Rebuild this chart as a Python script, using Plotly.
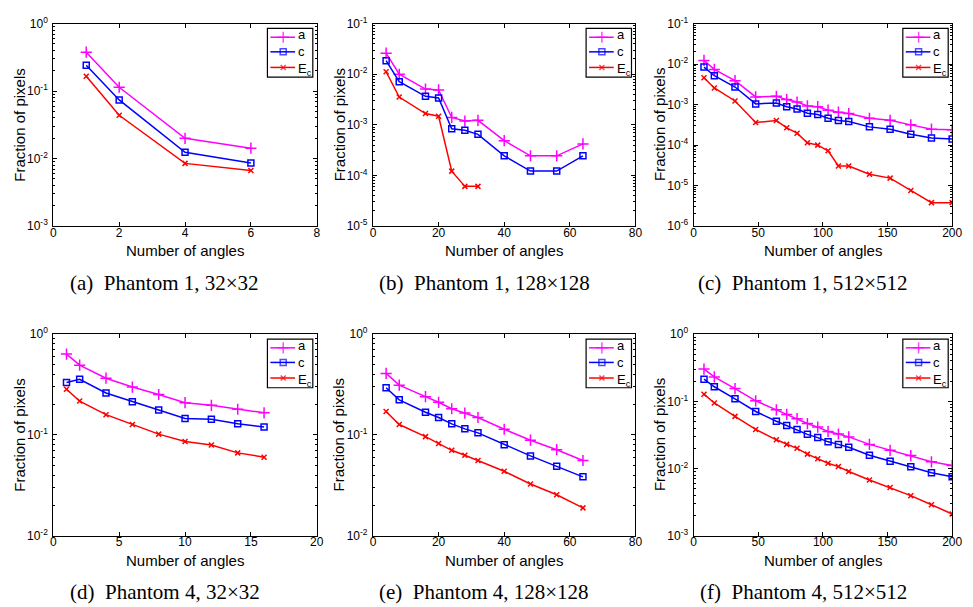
import plotly.graph_objects as go

# ---- data: fraction of pixels vs number of projection angles ----
# (a) Phantom 1, 32x32
a_x = [1, 2, 4, 6]
a_a = [0.377, 0.114, 0.0200, 0.0143]
a_c = [0.242, 0.074, 0.0124, 0.0086]
a_e = [0.166, 0.0439, 0.0085, 0.00667]

# (b) Phantom 1, 128x128
b_x = [4, 8, 16, 20, 24, 28, 32, 40, 48, 56, 64]
b_a = [0.026, 0.0100, 0.0051, 0.0049, 0.0014, 0.00119, 0.00123, 0.000488, 0.000244, 0.000244, 0.00042]
b_c = [0.0185, 0.0071, 0.00366, 0.0034, 0.00084, 0.00078, 0.00065, 0.000244, 0.000122, 0.000122, 0.000244]
b_ex = [4, 8, 16, 20, 24, 28, 32]
b_e = [0.0112, 0.00354, 0.00167, 0.00148, 0.000122, 0.000061, 0.000061]

# (c) Phantom 1, 512x512
c_x = [8, 16, 32, 48, 64, 72, 80, 88, 96, 104, 112, 120, 136, 152, 168, 184, 200]
c_a = [0.0123, 0.0074, 0.00389, 0.00155, 0.0016, 0.00133, 0.00116, 0.00093, 0.00089, 0.00073,
       0.00065, 0.0006, 0.00046, 0.00041, 0.000316, 0.000247, 0.000238]
c_c = [0.00844, 0.00516, 0.00272, 0.00104, 0.0011, 0.00089, 0.00078, 0.00061, 0.00057, 0.00046,
       0.000404, 0.000382, 0.000282, 0.000247, 0.000186, 0.000149, 0.000141]
c_e = [0.00461, 0.00257, 0.00123, 0.00036, 0.000404, 0.000267, 0.000197, 0.000114, 0.0001, 0.0000726,
       0.0000305, 0.0000305, 0.0000191, 0.0000153, 0.0000076, 0.0000038, 0.0000038]

# (d) Phantom 4, 32x32
d_x = [1, 2, 4, 6, 8, 10, 12, 14, 16]
d_a = [0.635, 0.493, 0.366, 0.299, 0.252, 0.209, 0.197, 0.180, 0.166]
d_c = [0.332, 0.357, 0.261, 0.214, 0.177, 0.146, 0.143, 0.129, 0.120]
d_e = [0.284, 0.217, 0.159, 0.127, 0.102, 0.0861, 0.0794, 0.0664, 0.0602]

# (e) Phantom 4, 128x128
e_x = [4, 8, 16, 20, 24, 28, 32, 40, 48, 56, 64]
e_a = [0.408, 0.312, 0.240, 0.211, 0.182, 0.165, 0.149, 0.114, 0.0887, 0.0714, 0.0558]
e_c = [0.294, 0.223, 0.168, 0.149, 0.129, 0.115, 0.105, 0.080, 0.062, 0.0488, 0.0384]
e_e = [0.171, 0.127, 0.0963, 0.0824, 0.0704, 0.0629, 0.0558, 0.0436, 0.0326, 0.0255, 0.0189]

# (f) Phantom 4, 512x512
f_x = [8, 16, 32, 48, 64, 72, 80, 88, 96, 104, 112, 120, 136, 152, 168, 184, 200]
f_a = [0.303, 0.231, 0.155, 0.102, 0.0748, 0.064, 0.0553, 0.0468, 0.0414, 0.0357, 0.0327, 0.0296,
       0.0229, 0.0187, 0.0156, 0.0126, 0.0111]
f_c = [0.214, 0.165, 0.109, 0.0707, 0.0506, 0.0437, 0.0382, 0.0323, 0.0289, 0.025, 0.0229, 0.0207,
       0.0158, 0.0129, 0.0106, 0.00865, 0.00756]
f_e = [0.128, 0.0946, 0.0598, 0.0382, 0.0268, 0.0229, 0.020, 0.0164, 0.014, 0.012, 0.0107, 0.00904,
       0.00676, 0.00523, 0.00395, 0.00289, 0.00211]

captions = ["(a)\u2002Phantom 1, 32\u00d732", "(b)\u2002Phantom 1, 128\u00d7128",
            "(c)\u2002Phantom 1, 512\u00d7512", "(d)\u2002Phantom 4, 32\u00d732",
            "(e)\u2002Phantom 4, 128\u00d7128", "(f)\u2002Phantom 4, 512\u00d7512"]
x_ranges = [(0, 8, 2), (0, 80, 20), (0, 200, 50), (0, 20, 5), (0, 80, 20), (0, 200, 50)]
y_decades = [(-3, 0), (-5, -1), (-6, -1), (-2, 0), (-2, 0), (-3, 0)]
series_names = ["a", "c", "E<sub>c</sub>"]

panels = [
    (a_x, a_a, a_x, a_c, a_x, a_e),
    (b_x, b_a, b_x, b_c, b_ex, b_e),
    (c_x, c_a, c_x, c_c, c_x, c_e),
    (d_x, d_a, d_x, d_c, d_x, d_e),
    (e_x, e_a, e_x, e_c, e_x, e_e),
    (f_x, f_a, f_x, f_c, f_x, f_e),
]

# ---- page geometry (pixels) ----
W, H = 973, 607
col_left = [51, 375, 700]
col_right = [318, 641, 962]
row_top = [15, 334]
row_bottom = [223, 541]
col_caption = [164, 488, 811]
col_ytitle = [17, 341, 666]

# legend box size and inner layout (pixels)
LEG_W, LEG_H = 46, 50
LEG_ROWS = [9, 24, 40]
LEG_FONT = 12

SANS = "Liberation Sans, Arial, Helvetica, sans-serif"
SERIF = "Liberation Serif, Times New Roman, serif"

colors = ["#ff00ff", "#0000ff", "#ff0000"]
symbols = ["cross-thin-open", "square-open", "x-thin-open"]
msizes = [8, 6, 5]

fig = go.Figure()
annotations = []
shapes = []
layout = {}

for i, (x1, y1, x2, y2, x3, y3) in enumerate(panels):
    r, c = divmod(i, 3)
    n = "" if i == 0 else str(i + 1)
    xa, ya = "x" + n, "y" + n
    for k, (xs, ys) in enumerate([(x1, y1), (x2, y2), (x3, y3)]):
        fig.add_trace(go.Scatter(
            x=xs, y=ys, xaxis=xa, yaxis=ya, mode="lines+markers",
            name=series_names[k], showlegend=False,
            line=dict(color=colors[k], width=1.5),
            marker=dict(symbol=symbols[k], size=msizes[k], color=colors[k],
                        line=dict(color=colors[k], width=1.5)),
        ))

    x0, x1r, dt = x_ranges[i]
    lo, hi = y_decades[i]
    dom_x = [col_left[c] / W, col_right[c] / W]
    dom_y = [1 - row_bottom[r] / H, 1 - row_top[r] / H]

    layout["xaxis" + n] = dict(
        domain=dom_x, anchor=ya, range=[x0, x1r], tickmode="linear", tick0=0, dtick=dt,
        ticks="inside", ticklen=4, tickwidth=1, tickcolor="black",
        showline=True, linecolor="black", linewidth=1.2, mirror="allticks",
        showgrid=False, zeroline=False, ticklabelstandoff=-5,
        tickfont=dict(family=SANS, size=12, color="black"),
    )
    decades = list(range(lo, hi + 1))
    minor_vals = [m * 10 ** d for d in range(lo, hi) for m in range(2, 10)]
    layout["yaxis" + n] = dict(
        domain=dom_y, anchor=xa, type="log", range=[lo, hi],
        tickmode="array", tickvals=[10 ** d for d in decades],
        ticktext=["10<sup>%d</sup>" % d for d in decades],
        ticks="inside", ticklen=4, tickwidth=1, tickcolor="black",
        minor=dict(tickmode="array", tickvals=minor_vals, ticks="inside",
                   ticklen=2, tickwidth=1, tickcolor="black", showgrid=False),
        showline=True, linecolor="black", linewidth=1.2, mirror="allticks",
        showgrid=False, zeroline=False, ticklabelstandoff=2,
        tickfont=dict(family=SANS, size=12, color="black"),
    )

    # boxed legend in the upper-right corner of each panel
    bx1 = col_right[c] - 4
    bx0 = bx1 - LEG_W
    by0 = row_top[r] + 5
    shapes.append(dict(type="rect", xref="paper", yref="paper",
                       x0=bx0 / W, x1=bx1 / W, y0=1 - by0 / H, y1=1 - (by0 + LEG_H) / H,
                       line=dict(color="black", width=1.2), fillcolor="white", layer="below"))
    for k in range(3):
        ry = by0 + LEG_ROWS[k]
        fig.add_trace(go.Scatter(
            x=[bx0 + 3, bx0 + 16, bx0 + 28], y=[ry, ry, ry], xaxis="x7", yaxis="y7",
            mode="lines+markers", showlegend=False, hoverinfo="skip", cliponaxis=False,
            line=dict(color=colors[k], width=1.5),
            marker=dict(symbol=symbols[k], size=[0, msizes[k], 0], color=colors[k],
                        line=dict(color=colors[k], width=1.5)),
        ))
    annotations.append(dict(
        text="<br>".join(series_names), x=(bx0 + 30) / W,
        y=1 - (by0 + LEG_ROWS[1] + 1) / H, align="left",
        xref="paper", yref="paper", showarrow=False, xanchor="left", yanchor="middle",
        font=dict(family=SANS, size=LEG_FONT + 1, color="black"), borderpad=0,
    ))

    cx = (col_left[c] + col_right[c]) / 2
    annotations.append(dict(
        text="Number of angles", x=cx / W, y=1 - (row_bottom[r] + 25) / H,
        xref="paper", yref="paper", showarrow=False, xanchor="center", yanchor="middle",
        font=dict(family=SANS, size=15, color="black"),
    ))
    annotations.append(dict(
        text="Fraction of pixels", x=col_ytitle[c] / W,
        y=1 - (row_top[r] + row_bottom[r]) / 2 / H, textangle=-90,
        xref="paper", yref="paper", showarrow=False, xanchor="center", yanchor="middle",
        font=dict(family=SANS, size=15, color="black"),
    ))
    annotations.append(dict(
        text=captions[i], x=col_caption[c] / W, y=1 - (row_bottom[r] + 58) / H,
        xref="paper", yref="paper", showarrow=False, xanchor="center", yanchor="middle",
        font=dict(family=SERIF, size=21, color="black"),
    ))

# full-page pixel overlay used for the legend samples
layout["xaxis7"] = dict(domain=[0, 1], range=[0, W], visible=False, fixedrange=True, anchor="y7")
layout["yaxis7"] = dict(domain=[0, 1], range=[H, 0], visible=False, fixedrange=True, anchor="x7")

fig.update_layout(
    width=W, height=H, margin=dict(l=0, r=0, t=0, b=0),
    paper_bgcolor="white", plot_bgcolor="rgba(0,0,0,0)", showlegend=False,
    annotations=annotations, shapes=shapes, **layout,
)

fig.write_html("out.html", config={"displayModeBar": False})
